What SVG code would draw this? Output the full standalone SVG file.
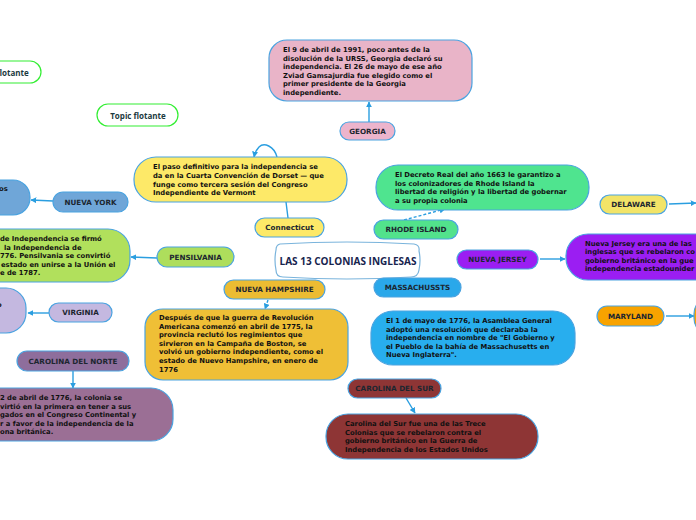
<svg xmlns="http://www.w3.org/2000/svg" width="696" height="520" viewBox="0 0 696 520">
<defs>
<style>
.b{stroke:#4aa3e0;stroke-width:1.2}
.fl{fill:#fff;stroke:#33ee33;stroke-width:1.2}
.lb{font-family:"DejaVu Sans",Verdana,sans-serif;font-weight:bold;font-size:7.2px;fill:#1c2630;text-anchor:middle;dominant-baseline:central}
.tx{font-family:"DejaVu Sans",Verdana,sans-serif;font-weight:bold;font-size:6.8px;fill:#111}
.ft{font-family:"Open Sans","DejaVu Sans",sans-serif;font-weight:bold;font-size:8px;fill:#1c3a40;text-anchor:middle;dominant-baseline:central}
.ti{font-family:"Open Sans","DejaVu Sans",sans-serif;font-weight:bold;font-size:10px;fill:#17244e;text-anchor:middle;dominant-baseline:central}
.c{fill:none;stroke:#2a9ee0;stroke-width:1.4}
</style>
<marker id="ah" viewBox="0 0 10 10" refX="9" refY="5" markerWidth="6" markerHeight="6" orient="auto" markerUnits="userSpaceOnUse">
<path d="M0,0 L10,5 L0,10 z" fill="#2a9ee0"/>
</marker>
</defs>
<rect width="696" height="520" fill="#fff"/>

<g id="connectors">
<line class="c" x1="369" y1="122" x2="369" y2="102" marker-end="url(#ah)"/>
<path class="c" d="M277,157 C274,146 264,142 259,147 C257,149 255,152 254,157" marker-end="url(#ah)"/>
<line class="c" x1="288" y1="218" x2="286" y2="202"/>
<line class="c" x1="404" y1="220" x2="445" y2="209" stroke-dasharray="3,2" marker-end="url(#ah)"/>
<line class="c" x1="53" y1="201" x2="31" y2="200" marker-end="url(#ah)"/>
<line class="c" x1="157" y1="258" x2="131" y2="257" marker-end="url(#ah)"/>
<line class="c" x1="49" y1="313" x2="28" y2="313" marker-end="url(#ah)"/>
<line class="c" x1="73" y1="371" x2="73" y2="388" marker-end="url(#ah)"/>
<line class="c" x1="268" y1="300" x2="265" y2="309" stroke-dasharray="3,2" marker-end="url(#ah)"/>
<line class="c" x1="540" y1="259" x2="565" y2="259" marker-end="url(#ah)"/>
<line class="c" x1="669" y1="204" x2="696" y2="203" marker-end="url(#ah)"/>
<line class="c" x1="666" y1="316" x2="694" y2="316" marker-end="url(#ah)"/>
<line class="c" x1="406" y1="398" x2="415" y2="413" marker-end="url(#ah)"/>
</g>

<g id="floating1"><rect class="fl" x="-39" y="61" width="80" height="22" rx="11"/><text class="ft" x="1" y="72">Topic flotante</text></g>
<g id="floating2"><rect class="fl" x="97" y="104" width="81" height="22" rx="11"/><text class="ft" x="138" y="115">Topic flotante</text></g>

<g id="georgia-detail"><rect class="b" x="269" y="40" width="203" height="61" rx="18" fill="#e9b4c8"/>
<text class="tx" x="283" y="52"><tspan x="283">El 9 de abril de 1991, poco antes de la</tspan><tspan x="283" dy="8.5">disolución de la URSS, Georgia declaró su</tspan><tspan x="283" dy="8.5">independencia. El 26 de mayo de ese año</tspan><tspan x="283" dy="8.5">Zviad Gamsajurdia fue elegido como el</tspan><tspan x="283" dy="8.5">primer presidente de la Georgia</tspan><tspan x="283" dy="8.5">independiente.</tspan></text></g>
<g id="georgia"><rect class="b" x="340" y="122" width="55" height="18" rx="9" fill="#ecb4cc"/><text class="lb" x="367.5" y="131">GEORGIA</text></g>

<g id="connecticut-detail"><rect class="b" x="134" y="157" width="213" height="45" rx="22" fill="#fde968"/>
<text class="tx" x="153" y="169"><tspan x="153">El paso definitivo para la independencia se</tspan><tspan x="153" dy="8.8">da en la Cuarta Convención de Dorset — que</tspan><tspan x="153" dy="8.8">funge como tercera sesión del Congreso</tspan><tspan x="153" dy="8.8">Independiente de Vermont</tspan></text></g>
<g id="connecticut"><rect class="b" x="255" y="218" width="69" height="19" rx="9.5" fill="#fde968"/><text class="lb" x="289.5" y="227.5">Connecticut</text></g>

<g id="rhode-detail"><rect class="b" x="376" y="165" width="213" height="45" rx="22" fill="#4fe48f"/>
<text class="tx" x="395" y="177"><tspan x="395">El Decreto Real del año 1663 le garantizo a</tspan><tspan x="395" dy="8.7">los colonizadores de Rhode Island la</tspan><tspan x="395" dy="8.7">libertad de religión y la libertad de gobernar</tspan><tspan x="395" dy="8.7">a su propia colonia</tspan></text></g>
<g id="rhode-island"><rect class="b" x="374" y="220" width="84" height="19" rx="9.5" fill="#52e28c"/><text class="lb" x="416" y="229.5">RHODE ISLAND</text></g>

<g id="ny-detail"><rect class="b" x="-60" y="180" width="90" height="35" rx="17" fill="#6fa6d8"/><text class="tx" x="-1" y="191">os</text></g>
<g id="nueva-york"><rect class="b" x="53" y="192" width="75" height="20" rx="10" fill="#6fa6d8"/><text class="lb" x="90.5" y="202">NUEVA YORK</text></g>

<g id="pensilvania-detail"><rect class="b" x="-80" y="229" width="210" height="53" rx="22" fill="#b1e05c"/>
<text class="tx" y="241"><tspan x="0">de Independencia se firmó</tspan><tspan x="4" dy="8.5">la Independencia de</tspan><tspan x="0" dy="8.5">776. Pensilvania se convirtió</tspan><tspan x="1" dy="8.5">estado en unirse a la Unión el</tspan><tspan x="0" dy="8.5">e de 1787.</tspan></text></g>
<g id="pensilvania"><rect class="b" x="157" y="247" width="77" height="20" rx="10" fill="#aede5c"/><text class="lb" x="195.5" y="257">PENSILVANIA</text></g>

<g id="virginia-detail"><rect class="b" x="-70" y="288" width="96" height="45" rx="20" fill="#c4b8e0"/><text class="tx" x="-3" y="307">o</text></g>
<g id="virginia"><rect class="b" x="49" y="303" width="63" height="19" rx="9.5" fill="#c4b8e0"/><text class="lb" x="80.5" y="312.5">VIRGINIA</text></g>

<g id="carolina-norte"><rect class="b" x="17" y="351" width="112" height="20" rx="10" fill="#8e6e9c"/><text class="lb" x="73" y="361">CAROLINA DEL NORTE</text></g>
<g id="carolina-norte-detail"><rect class="b" x="-50" y="388" width="223" height="53" rx="22" fill="#9b6f95"/>
<text class="tx" y="400"><tspan x="0">2 de abril de 1776, la colonia se</tspan><tspan x="0" dy="8.6">virtió en la primera en tener a sus</tspan><tspan x="0" dy="8.6">gados en el Congreso Continental y</tspan><tspan x="0" dy="8.6">r a favor de la independencia de la</tspan><tspan x="0" dy="8.6">ona británica.</tspan></text></g>

<g id="center"><path d="M280,244 Q347,240 414,244 Q420,245 419,251 Q421,260 419,270 Q418,277 411,277 Q347,281 283,277 Q276,277 276,270 Q274,260 276,250 Q276,245 280,244 Z" fill="#fff" stroke="#7ab4dc" stroke-width="1.2"/><text class="ti" x="348" y="261">LAS 13 COLONIAS INGLESAS</text></g>

<g id="nueva-hampshire"><rect class="b" x="224" y="280" width="101" height="19" rx="9.5" fill="#ecbc32"/><text class="lb" x="274.5" y="289.5">NUEVA HAMPSHIRE</text></g>
<g id="nh-detail"><rect class="b" x="145" y="309" width="203" height="71" rx="18" fill="#efbf36"/>
<text class="tx" y="320"><tspan x="159">Después de que la guerra de Revolución</tspan><tspan x="159" dy="8.6">Americana comenzó en abril de 1775, la</tspan><tspan x="159" dy="8.6">provincia reclutó los regimientos que</tspan><tspan x="159" dy="8.6">sirvieron en la Campaña de Boston, se</tspan><tspan x="159" dy="8.6">volvió un gobierno independiente, como el</tspan><tspan x="159" dy="8.6">estado de Nuevo Hampshire, en enero de</tspan><tspan x="159" dy="8.6">1776</tspan></text></g>

<g id="massachusetts"><rect class="b" x="374" y="278" width="87" height="19" rx="9.5" fill="#2aa8ea"/><text class="lb" x="417.5" y="287.5">MASSACHUSSTS</text></g>
<g id="mass-detail"><rect class="b" x="371" y="311" width="204" height="54" rx="22" fill="#28aeee"/>
<text class="tx" y="323"><tspan x="386">El 1 de mayo de 1776, la Asamblea General</tspan><tspan x="386" dy="8.6">adoptó una resolución que declaraba la</tspan><tspan x="386" dy="8.6">independencia en nombre de "El Gobierno y</tspan><tspan x="386" dy="8.6">el Pueblo de la bahía de Massachusetts en</tspan><tspan x="386" dy="8.6">Nueva Inglaterra".</tspan></text></g>

<g id="nueva-jersey"><rect class="b" x="457" y="250" width="81" height="19" rx="9.5" fill="#9b1ef2"/><text class="lb" x="497.5" y="259.5">NUEVA JERSEY</text></g>
<g id="nj-detail"><rect class="b" x="566" y="234" width="180" height="46" rx="22" fill="#9b1ef2"/>
<text class="tx" y="246"><tspan x="585">Nueva Jersey era una de las</tspan><tspan x="585" dy="8.4">inglesas que se rebelaron co</tspan><tspan x="585" dy="8.4">gobierno británico en la gue</tspan><tspan x="585" dy="8.4">independencia estadounider</tspan></text></g>

<g id="delaware"><rect class="b" x="600" y="195" width="67" height="19" rx="9.5" fill="#f2e468"/><text class="lb" x="633.5" y="204.5">DELAWARE</text></g>
<g id="maryland"><rect class="b" x="597" y="306" width="67" height="20" rx="10" fill="#f8a300"/><text class="lb" x="630.5" y="316">MARYLAND</text></g>
<g id="maryland-detail"><rect class="b" x="694" y="296" width="60" height="40" rx="18" fill="#f8a300"/></g>

<g id="carolina-sur"><rect class="b" x="348" y="379" width="93" height="19" rx="9.5" fill="#8e3535"/><text class="lb" x="394.5" y="388.5">CAROLINA DEL SUR</text></g>
<g id="cs-detail"><rect class="b" x="326" y="414" width="212" height="45" rx="22" fill="#8e3535"/>
<text class="tx" y="426"><tspan x="345">Carolina del Sur fue una de las Trece</tspan><tspan x="345" dy="8.5">Colonias que se rebelaron contra el</tspan><tspan x="345" dy="8.5">gobierno británico en la Guerra de</tspan><tspan x="345" dy="8.5">Independencia de los Estados Unidos</tspan></text></g>
</svg>
